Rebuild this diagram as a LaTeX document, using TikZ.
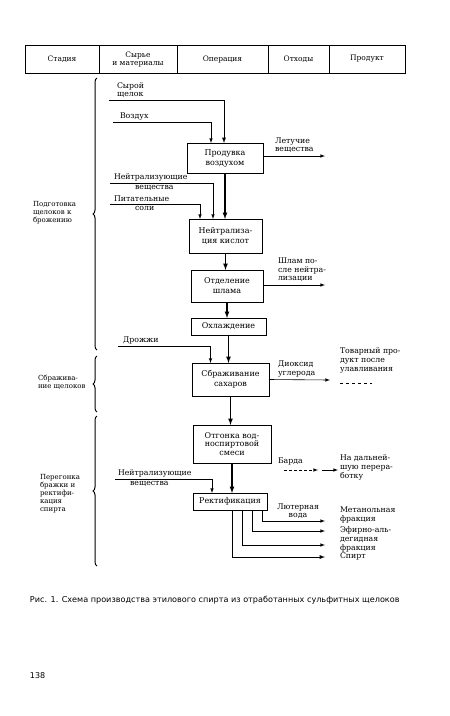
\documentclass[tikz,border=0pt]{standalone}
\usepackage{fontspec}
\setmainfont{DejaVu Serif}
\setsansfont{DejaVu Sans}
\usetikzlibrary{positioning,decorations.pathreplacing,arrows}

\begin{document}
\begin{tikzpicture}[x=1pt,y=-1pt,>=latex,
  every node/.style={inner sep=0pt,outer sep=0pt},
  headcell/.style={draw,line width=1pt,minimum height=28pt,align=center,font=\fontsize{7.5}{8}\selectfont},
  opbox/.style={draw,line width=1pt,align=center,font=\fontsize{8}{10}\selectfont},
  lbl/.style={align=left,font=\fontsize{7.8}{8.8}\selectfont},
  stagelbl/.style={align=left,font=\fontsize{7}{8}\selectfont},
  flow/.style={->,line width=1.2pt},
  feed/.style={->,line width=.6pt},
  stagebrace/.style={decorate,decoration={brace,amplitude=4pt},line width=1pt}]
      \useasboundingbox (0,0) rectangle (450,716);

      % header row
      \node[headcell,minimum width=74pt,anchor=north west] (Stadia) at (25,45) {Стадия};
      \node[headcell,minimum width=78pt,right=0pt of Stadia] (Syrie) {Сырье\\и материалы};
      \node[headcell,minimum width=91pt,right=0pt of Syrie] (Operacia) {Операция};
      \node[headcell,minimum width=61pt,right=0pt of Operacia] (Othody) {Отходы};
      \node[headcell,minimum width=76pt,right=0pt of Othody] (Produkt) {Продукт};

      % operations
      \node[opbox,minimum width=76pt,minimum height=30pt](Produvka) at (225,158)   {Продувка\\воздухом};
      \node[opbox,minimum width=73pt,minimum height=34pt](Neitr)    at (225.5,236) {Нейтрализа-\\ция кислот};
      \node[opbox,minimum width=72pt,minimum height=32pt](Shlam)    at (227,286)   {Отделение\\шлама};
      \node[opbox,minimum width=75pt,minimum height=17pt](Ohlazhd)  at (228.5,326.5) {Охлаждение};
      \node[opbox,minimum width=77pt,minimum height=33pt](Sbrazh)   at (230.5,379.5) {Сбраживание\\сахаров};
      \node[opbox,minimum width=78pt,minimum height=38pt,font=\fontsize{8}{8.5}\selectfont](Otgonka) at (232,444) {Отгонка вод-\\носпиртовой\\смеси};
      \node[opbox,minimum width=74pt,minimum height=17pt](Rekt)     at (230,501.5) {Ректификация};

      \draw[flow] (Produvka.south) -- (Produvka.south |- Neitr.north);
      \draw[flow] (Neitr.south)    -- (Neitr.south |- Shlam.north);
      \draw[flow] (Shlam.south)    -- (Shlam.south |- Ohlazhd.north);
      \draw[flow] (Ohlazhd.south)  -- (Ohlazhd.south |- Sbrazh.north);
      \draw[flow] (Sbrazh.south)   -- (Sbrazh.south |- Otgonka.north);
      \draw[flow] (Otgonka.south)  -- (Otgonka.south |- Rekt.north);

      % raw materials
      \coordinate (inSyr)    at (109,100);
      \coordinate (inVozd)   at (113,122);
      \coordinate (inNeitr)  at (110,183);
      \coordinate (inPit)    at (110,204);
      \coordinate (inDrozh)  at (118,346);
      \coordinate (inNeitrB) at (115,479);

      \draw[flow,line width=.9pt] (inSyr) -| ([xshift=-1pt]Produvka.north);
      \draw[feed] (inVozd)   -| ([xshift=-14pt]Produvka.north);
      \draw[feed] (inNeitr)  -| ([xshift=-12.5pt]Neitr.north);
      \draw[feed] (inPit)    -| ([xshift=-25.5pt]Neitr.north);
      \draw[feed] (inDrozh)  -| ([xshift=-20pt]Sbrazh.north);
      \draw[feed] (inNeitrB) -| ([xshift=-18pt]Rekt.north);

      \node[lbl,above right=2pt and 8pt of inSyr]    {Сырой\\щелок};
      \node[lbl,above right=2pt and 7pt of inVozd]   {Воздух};
      \node[lbl,above right=2pt and 4pt of inNeitr]  {Нейтрализующие};
      \node[lbl,below right=2pt and 25pt of inNeitr] {вещества};
      \node[lbl,above right=2pt and 4pt of inPit]    {Питательные};
      \node[lbl,below right=2pt and 25pt of inPit]   {соли};
      \node[lbl,above right=2pt and 5pt of inDrozh]  {Дрожжи};
      \node[lbl,above right=2pt and 3pt of inNeitrB] {Нейтрализующие};
      \node[lbl,below right=2pt and 15pt of inNeitrB]{вещества};

      % wastes
      \coordinate (outLet)   at (325,156);
      \coordinate (outShlam) at (325,285);
      \coordinate (outCO2)   at (330,380);
      \coordinate (bardaA)   at (284,470);
      \coordinate (bardaM)   at (318,470);
      \coordinate (bardaN)   at (322,470);
      \coordinate (bardaB)   at (338,470);

      \draw[feed] (Produvka.east |- outLet) -- (outLet);
      \draw[feed] (Shlam.east |- outShlam)  -- (outShlam);
      \draw[feed] (Sbrazh.east)             -- (outCO2);
      \draw[feed,densely dashed] (bardaA) -- (bardaM);
      \draw[feed] (bardaN) -- (bardaB);

      \node[lbl,anchor=south west] at (275,153) {Летучие\\вещества};
      \node[lbl,anchor=south west] at (278,282) {Шлам по-\\сле нейтра-\\лизации};
      \node[lbl,anchor=south west] at (278,377) {Диоксид\\углерода};
      \node[lbl,anchor=south west] at (278,465) {Барда};
      \node[lbl,align=center,anchor=south] at (298,519) {Лютерная\\вода};

      % rectification outputs
      \coordinate (outMet) at (325,521);
      \coordinate (outEf)  at (325,531);
      \coordinate (outEfB) at (325,545);
      \coordinate (outSp)  at (325,557);
      \draw[feed] ([xshift=32pt]Rekt.south) |- (outMet);
      \draw[feed] ([xshift=22pt]Rekt.south) |- (outEf);
      \draw[feed] ([xshift=12pt]Rekt.south) |- (outEfB);
      \draw[feed,line width=.9pt] ([xshift=2pt]Rekt.south) |- (outSp);

      % products
      \node[lbl,anchor=north west] at (340,348) {Товарный про-\\дукт после\\улавливания};
      \draw[dashed] (340,383) -- (372,383);
      \node[lbl,anchor=north west] at (340,455) {На дальней-\\шую перера-\\ботку};
      \node[lbl,anchor=north west] at (340,507) {Метанольная\\фракция};
      \node[lbl,anchor=north west] at (340,527) {Эфирно-аль-\\дегидная\\фракция};
      \node[lbl,anchor=north west] at (340,553) {Спирт};

      % stages
      \draw[stagebrace] (97,350) -- (97,78);
      \draw[stagebrace] (97,412) -- (97,356);
      \draw[stagebrace] (97,566) -- (97,416);
      \node[stagelbl,anchor=west] (StPodg)   at (33,213) {Подготовка\\щелоков к\\брожению};
      \node[stagelbl,anchor=west] (StSbr)    at (38,382) {Сбражива-\\ние щелоков};
      \node[stagelbl,anchor=west] (StPereg)  at (40,494) {Перегонка\\бражки и\\ректифи-\\кация\\спирта};

      % caption and page number
      \node[font=\sffamily\fontsize{8.1}{9}\selectfont,anchor=west] (Caption) at (30,600) {Рис. 1. Схема производства этилового спирта из отработанных сульфитных щелоков};
      \node[font=\sffamily\fontsize{8}{9}\selectfont,anchor=west] (PageNo) at (30,676) {138};
\end{tikzpicture}
\end{document}
